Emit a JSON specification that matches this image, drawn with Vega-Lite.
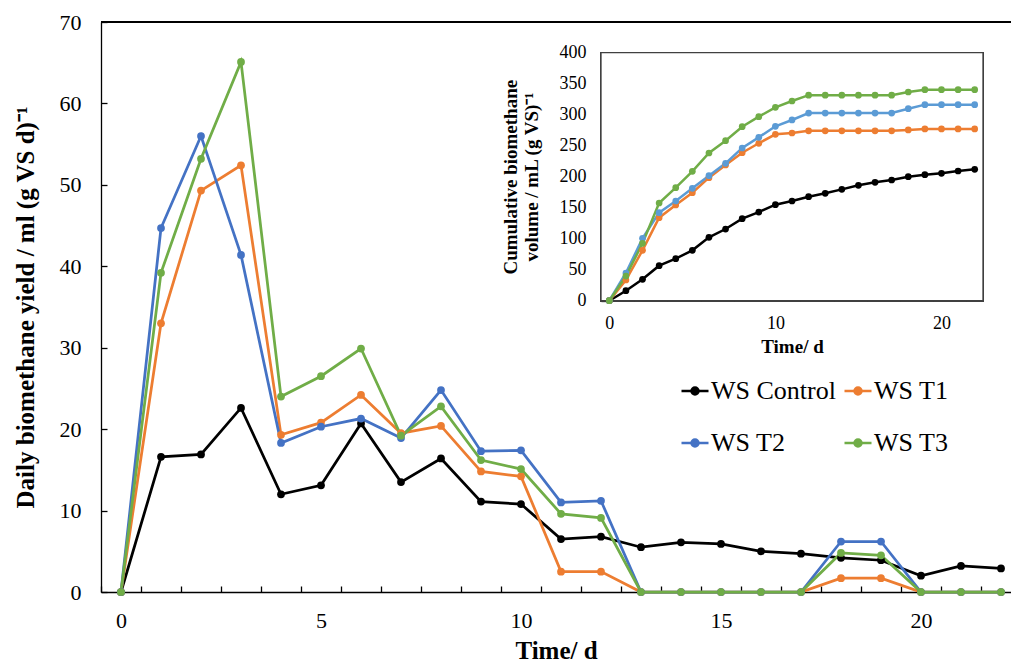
{
  "$schema": "https://vega.github.io/schema/vega-lite/v6.json",
  "width": 910,
  "height": 570,
  "autosize": {"type": "none"},
  "padding": {"left": 101, "top": 22, "right": 0, "bottom": 72},
  "background": "white",
  "config": {
    "view": {"stroke": null},
    "text": {"font": "Liberation Serif"},
    "axis": {"grid": false, "domainColor": "black", "tickColor": "black", "labelColor": "black", "titleColor": "black", "labelFont": "Liberation Serif", "titleFont": "Liberation Serif", "domainWidth": 1.3, "tickWidth": 1.3},
    "legend": {"labelFont": "Liberation Serif", "titleFont": "Liberation Serif"}
  },
  "datasets": {
    "daily": [
      {"d": 0, "s": "WS Control", "v": 0}, {"d": 1, "s": "WS Control", "v": 16.6}, {"d": 2, "s": "WS Control", "v": 16.9}, {"d": 3, "s": "WS Control", "v": 22.6}, {"d": 4, "s": "WS Control", "v": 12.0}, {"d": 5, "s": "WS Control", "v": 13.1}, {"d": 6, "s": "WS Control", "v": 20.7}, {"d": 7, "s": "WS Control", "v": 13.5}, {"d": 8, "s": "WS Control", "v": 16.4}, {"d": 9, "s": "WS Control", "v": 11.1}, {"d": 10, "s": "WS Control", "v": 10.8}, {"d": 11, "s": "WS Control", "v": 6.5}, {"d": 12, "s": "WS Control", "v": 6.8}, {"d": 13, "s": "WS Control", "v": 5.5}, {"d": 14, "s": "WS Control", "v": 6.1}, {"d": 15, "s": "WS Control", "v": 5.9}, {"d": 16, "s": "WS Control", "v": 5.0}, {"d": 17, "s": "WS Control", "v": 4.7}, {"d": 18, "s": "WS Control", "v": 4.2}, {"d": 19, "s": "WS Control", "v": 3.9}, {"d": 20, "s": "WS Control", "v": 2.0}, {"d": 21, "s": "WS Control", "v": 3.2}, {"d": 22, "s": "WS Control", "v": 2.9},
      {"d": 0, "s": "WS T1", "v": 0}, {"d": 1, "s": "WS T1", "v": 33.0}, {"d": 2, "s": "WS T1", "v": 49.3}, {"d": 3, "s": "WS T1", "v": 52.4}, {"d": 4, "s": "WS T1", "v": 19.3}, {"d": 5, "s": "WS T1", "v": 20.8}, {"d": 6, "s": "WS T1", "v": 24.2}, {"d": 7, "s": "WS T1", "v": 19.5}, {"d": 8, "s": "WS T1", "v": 20.4}, {"d": 9, "s": "WS T1", "v": 14.8}, {"d": 10, "s": "WS T1", "v": 14.2}, {"d": 11, "s": "WS T1", "v": 2.5}, {"d": 12, "s": "WS T1", "v": 2.5}, {"d": 13, "s": "WS T1", "v": 0}, {"d": 14, "s": "WS T1", "v": 0}, {"d": 15, "s": "WS T1", "v": 0}, {"d": 16, "s": "WS T1", "v": 0}, {"d": 17, "s": "WS T1", "v": 0}, {"d": 18, "s": "WS T1", "v": 1.7}, {"d": 19, "s": "WS T1", "v": 1.7}, {"d": 20, "s": "WS T1", "v": 0}, {"d": 21, "s": "WS T1", "v": 0}, {"d": 22, "s": "WS T1", "v": 0},
      {"d": 0, "s": "WS T2", "v": 0}, {"d": 1, "s": "WS T2", "v": 44.7}, {"d": 2, "s": "WS T2", "v": 56.0}, {"d": 3, "s": "WS T2", "v": 41.4}, {"d": 4, "s": "WS T2", "v": 18.3}, {"d": 5, "s": "WS T2", "v": 20.3}, {"d": 6, "s": "WS T2", "v": 21.3}, {"d": 7, "s": "WS T2", "v": 18.9}, {"d": 8, "s": "WS T2", "v": 24.8}, {"d": 9, "s": "WS T2", "v": 17.3}, {"d": 10, "s": "WS T2", "v": 17.4}, {"d": 11, "s": "WS T2", "v": 11.0}, {"d": 12, "s": "WS T2", "v": 11.2}, {"d": 13, "s": "WS T2", "v": 0}, {"d": 14, "s": "WS T2", "v": 0}, {"d": 15, "s": "WS T2", "v": 0}, {"d": 16, "s": "WS T2", "v": 0}, {"d": 17, "s": "WS T2", "v": 0}, {"d": 18, "s": "WS T2", "v": 6.2}, {"d": 19, "s": "WS T2", "v": 6.2}, {"d": 20, "s": "WS T2", "v": 0}, {"d": 21, "s": "WS T2", "v": 0}, {"d": 22, "s": "WS T2", "v": 0},
      {"d": 0, "s": "WS T3", "v": 0}, {"d": 1, "s": "WS T3", "v": 39.2}, {"d": 2, "s": "WS T3", "v": 53.2}, {"d": 3, "s": "WS T3", "v": 65.1}, {"d": 4, "s": "WS T3", "v": 24.0}, {"d": 5, "s": "WS T3", "v": 26.5}, {"d": 6, "s": "WS T3", "v": 29.9}, {"d": 7, "s": "WS T3", "v": 19.2}, {"d": 8, "s": "WS T3", "v": 22.8}, {"d": 9, "s": "WS T3", "v": 16.2}, {"d": 10, "s": "WS T3", "v": 15.1}, {"d": 11, "s": "WS T3", "v": 9.6}, {"d": 12, "s": "WS T3", "v": 9.1}, {"d": 13, "s": "WS T3", "v": 0}, {"d": 14, "s": "WS T3", "v": 0}, {"d": 15, "s": "WS T3", "v": 0}, {"d": 16, "s": "WS T3", "v": 0}, {"d": 17, "s": "WS T3", "v": 0}, {"d": 18, "s": "WS T3", "v": 4.8}, {"d": 19, "s": "WS T3", "v": 4.5}, {"d": 20, "s": "WS T3", "v": 0}, {"d": 21, "s": "WS T3", "v": 0}, {"d": 22, "s": "WS T3", "v": 0}
    ],
    "cum": [
      {"d": 0, "s": "WS Control", "v": 0}, {"d": 1, "s": "WS Control", "v": 16.1}, {"d": 2, "s": "WS Control", "v": 34.5}, {"d": 3, "s": "WS Control", "v": 56.5}, {"d": 4, "s": "WS Control", "v": 67.8}, {"d": 5, "s": "WS Control", "v": 81.2}, {"d": 6, "s": "WS Control", "v": 102.2}, {"d": 7, "s": "WS Control", "v": 115.6}, {"d": 8, "s": "WS Control", "v": 132.3}, {"d": 9, "s": "WS Control", "v": 143.0}, {"d": 10, "s": "WS Control", "v": 154.9}, {"d": 11, "s": "WS Control", "v": 160.8}, {"d": 12, "s": "WS Control", "v": 167.7}, {"d": 13, "s": "WS Control", "v": 173.2}, {"d": 14, "s": "WS Control", "v": 179.6}, {"d": 15, "s": "WS Control", "v": 186.1}, {"d": 16, "s": "WS Control", "v": 191.0}, {"d": 17, "s": "WS Control", "v": 194.7}, {"d": 18, "s": "WS Control", "v": 200.0}, {"d": 19, "s": "WS Control", "v": 203.2}, {"d": 20, "s": "WS Control", "v": 205.5}, {"d": 21, "s": "WS Control", "v": 209.2}, {"d": 22, "s": "WS Control", "v": 211.9},
      {"d": 0, "s": "WS T1", "v": 0}, {"d": 1, "s": "WS T1", "v": 33.4}, {"d": 2, "s": "WS T1", "v": 81.2}, {"d": 3, "s": "WS T1", "v": 133.9}, {"d": 4, "s": "WS T1", "v": 154.4}, {"d": 5, "s": "WS T1", "v": 174.2}, {"d": 6, "s": "WS T1", "v": 198.4}, {"d": 7, "s": "WS T1", "v": 218.9}, {"d": 8, "s": "WS T1", "v": 238.7}, {"d": 9, "s": "WS T1", "v": 253.9}, {"d": 10, "s": "WS T1", "v": 268.4}, {"d": 11, "s": "WS T1", "v": 270.5}, {"d": 12, "s": "WS T1", "v": 274.0}, {"d": 13, "s": "WS T1", "v": 274.0}, {"d": 14, "s": "WS T1", "v": 274.0}, {"d": 15, "s": "WS T1", "v": 274.0}, {"d": 16, "s": "WS T1", "v": 274.0}, {"d": 17, "s": "WS T1", "v": 274.0}, {"d": 18, "s": "WS T1", "v": 275.5}, {"d": 19, "s": "WS T1", "v": 277.0}, {"d": 20, "s": "WS T1", "v": 277.0}, {"d": 21, "s": "WS T1", "v": 277.0}, {"d": 22, "s": "WS T1", "v": 277.0},
      {"d": 0, "s": "WS T2", "v": 0}, {"d": 1, "s": "WS T2", "v": 44.7}, {"d": 2, "s": "WS T2", "v": 100.6}, {"d": 3, "s": "WS T2", "v": 142.0}, {"d": 4, "s": "WS T2", "v": 160.8}, {"d": 5, "s": "WS T2", "v": 181.3}, {"d": 6, "s": "WS T2", "v": 201.6}, {"d": 7, "s": "WS T2", "v": 221.6}, {"d": 8, "s": "WS T2", "v": 246.3}, {"d": 9, "s": "WS T2", "v": 263.5}, {"d": 10, "s": "WS T2", "v": 281.3}, {"d": 11, "s": "WS T2", "v": 291.5}, {"d": 12, "s": "WS T2", "v": 302.7}, {"d": 13, "s": "WS T2", "v": 302.7}, {"d": 14, "s": "WS T2", "v": 302.7}, {"d": 15, "s": "WS T2", "v": 302.7}, {"d": 16, "s": "WS T2", "v": 302.7}, {"d": 17, "s": "WS T2", "v": 302.7}, {"d": 18, "s": "WS T2", "v": 309.7}, {"d": 19, "s": "WS T2", "v": 316.2}, {"d": 20, "s": "WS T2", "v": 316.2}, {"d": 21, "s": "WS T2", "v": 316.2}, {"d": 22, "s": "WS T2", "v": 316.2},
      {"d": 0, "s": "WS T3", "v": 0}, {"d": 1, "s": "WS T3", "v": 39.8}, {"d": 2, "s": "WS T3", "v": 92.5}, {"d": 3, "s": "WS T3", "v": 157.6}, {"d": 4, "s": "WS T3", "v": 182.3}, {"d": 5, "s": "WS T3", "v": 208.7}, {"d": 6, "s": "WS T3", "v": 238.2}, {"d": 7, "s": "WS T3", "v": 258.1}, {"d": 8, "s": "WS T3", "v": 280.6}, {"d": 9, "s": "WS T3", "v": 296.8}, {"d": 10, "s": "WS T3", "v": 311.9}, {"d": 11, "s": "WS T3", "v": 322.1}, {"d": 12, "s": "WS T3", "v": 331.5}, {"d": 13, "s": "WS T3", "v": 331.5}, {"d": 14, "s": "WS T3", "v": 331.5}, {"d": 15, "s": "WS T3", "v": 331.5}, {"d": 16, "s": "WS T3", "v": 331.5}, {"d": 17, "s": "WS T3", "v": 331.5}, {"d": 18, "s": "WS T3", "v": 336.6}, {"d": 19, "s": "WS T3", "v": 340.3}, {"d": 20, "s": "WS T3", "v": 340.3}, {"d": 21, "s": "WS T3", "v": 340.3}, {"d": 22, "s": "WS T3", "v": 340.3}
    ]
  },
  "layer": [
    {
      "data": {"name": "daily"},
      "layer": [
        {
          "mark": {"type": "line", "strokeWidth": 2.75},
          "encoding": {
            "x": {"field": "d", "type": "quantitative", "scale": {"domain": [-0.5, 22.25], "nice": false, "zero": false},
              "axis": {"orient": "bottom", "values": [-0.5, 0.5, 1.5, 2.5, 3.5, 4.5, 5.5, 6.5, 7.5, 8.5, 9.5, 10.5, 11.5, 12.5, 13.5, 14.5, 15.5, 16.5, 17.5, 18.5, 19.5, 20.5, 21.5],
                "labelExpr": "(datum.value + 0.5) % 5 == 0 ? format(datum.value + 0.5, 'd') : ''",
                "labelOffset": 20, "tickSize": -6, "labelPadding": 24, "labelFontSize": 22, "labelFlush": false, "labelOverlap": false, "labelBound": false,
                "title": "Time/ d", "titleFontSize": 25, "titleFontWeight": "bold", "titlePadding": 7}},
            "y": {"field": "v", "type": "quantitative", "scale": {"domain": [0, 70], "nice": false},
              "axis": {"orient": "left", "values": [0, 10, 20, 30, 40, 50, 60, 70], "tickSize": -6, "labelPadding": 26, "labelFontSize": 22, "labelFlush": false, "labelOverlap": false, "labelBound": false,
                "title": "Daily biomethane yield / ml (g VS d)⁻¹", "titleFontSize": 25, "titleFontWeight": "bold", "titlePadding": 21}},
            "color": {"field": "s", "type": "nominal",
              "scale": {"domain": ["WS Control", "WS T1", "WS T2", "WS T3"], "range": ["#000000", "#ED7D31", "#4472C4", "#70AD47"]},
              "legend": {"orient": "none", "direction": "horizontal", "legendX": 579, "legendY": 354, "columns": 2, "title": null,
                "labelFont": "Liberation Serif", "labelFontSize": 26, "labelColor": "black",
                "symbolType": "M-1,0H1M-0.26,0A0.26,0.26,0,1,1,0.26,0A0.26,0.26,0,1,1,-0.26,0Z", "symbolSize": 729, "symbolStrokeWidth": 2.5,
                "labelOffset": 1, "columnPadding": 3, "rowPadding": 24,
                "encode": {
                  "symbols": {"update": {"fill": {"scale": "color", "field": "value"}, "stroke": {"scale": "color", "field": "value"}, "opacity": {"value": 1}}}
                }}}
          }
        },
        {
          "mark": {"type": "circle", "size": 60, "opacity": 1},
          "encoding": {
            "x": {"field": "d", "type": "quantitative"},
            "y": {"field": "v", "type": "quantitative"},
            "color": {"field": "s", "type": "nominal"}
          }
        },
        {
          "mark": {"type": "rule", "color": "black", "strokeWidth": 1.3},
          "encoding": {"y": {"datum": 70}}
        }
      ]
    },
    {
      "data": {"name": "cum"},
      "layer": [
        {
          "mark": {"type": "rect", "fill": "white", "stroke": "#404040", "strokeWidth": 1.3},
          "encoding": {"x": {"datum": -0.5}, "x2": {"datum": 22.5}, "y": {"datum": 0}, "y2": {"datum": 400}}
        },
        {
          "mark": {"type": "line", "strokeWidth": 2.5},
          "encoding": {
            "x": {"field": "d", "type": "quantitative", "scale": {"domain": [-0.5, 22.5], "range": [500, 882], "nice": false, "zero": false},
              "axis": {"orient": "bottom", "offset": -291.3, "values": [-0.5, 0.5, 1.5, 2.5, 3.5, 4.5, 5.5, 6.5, 7.5, 8.5, 9.5, 10.5, 11.5, 12.5, 13.5, 14.5, 15.5, 16.5, 17.5, 18.5, 19.5, 20.5, 21.5, 22.5],
                "labelExpr": "(datum.value + 0.5) % 5 == 0 ? format(datum.value + 0.5, 'd') : ''",
                "labelOffset": 8.3, "tickSize": -5, "labelPadding": 19, "labelFontSize": 18, "labelFlush": false, "labelOverlap": false, "labelBound": false,
                "title": "Time/ d", "titleFontSize": 19, "titleFontWeight": "bold", "titlePadding": 5}},
            "y": {"field": "v", "type": "quantitative", "scale": {"domain": [0, 400], "range": [278.7, 30.7], "nice": false},
              "axis": {"orient": "left", "offset": -500, "values": [0, 50, 100, 150, 200, 250, 300, 350, 400], "tickSize": -5, "labelPadding": 20, "labelFontSize": 18, "labelFlush": false, "labelOverlap": false, "labelBound": false,
                "title": ["Cumulative biomethane", "volume / mL (g VS)⁻¹"], "titleFontSize": 19, "titleFontWeight": "bold", "titlePadding": 18, "titleLineHeight": 21}},
            "stroke": {"field": "s", "type": "nominal", "scale": {"domain": ["WS Control", "WS T1", "WS T2", "WS T3"], "range": ["#000000", "#ED7D31", "#5B9BD5", "#70AD47"]}, "legend": null}
          }
        },
        {
          "mark": {"type": "circle", "size": 45, "opacity": 1},
          "encoding": {
            "x": {"field": "d", "type": "quantitative"},
            "y": {"field": "v", "type": "quantitative"},
            "fill": {"field": "s", "type": "nominal", "scale": {"domain": ["WS Control", "WS T1", "WS T2", "WS T3"], "range": ["#000000", "#ED7D31", "#5B9BD5", "#70AD47"]}, "legend": null}
          }
        }
      ]
    }
  ],
  "resolve": {"scale": {"x": "independent", "y": "independent"}}
}
